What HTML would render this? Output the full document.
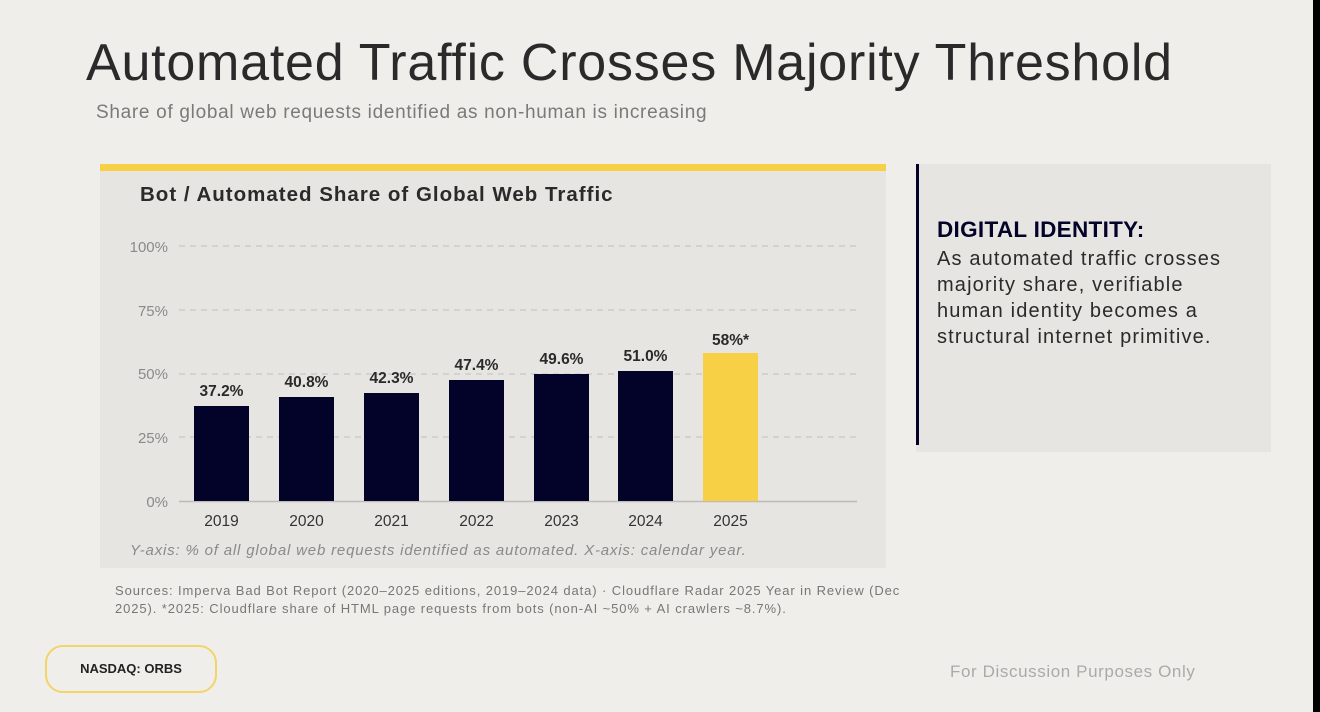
<!DOCTYPE html>
<html><head><meta charset="utf-8"><style>
*{margin:0;padding:0;box-sizing:border-box}
body{width:1320px;height:712px;background:#efeeea;position:relative;overflow:hidden;font-family:"Liberation Sans","DejaVu Sans",sans-serif}
.abs{position:absolute;white-space:nowrap}
</style></head><body>
<div class="abs" style="left:86px;top:33px;font-size:52px;color:#2a2a2a;letter-spacing:0.77px">Automated Traffic Crosses Majority Threshold</div>
<div class="abs" style="left:96px;top:102px;font-size:19px;color:#7a7a7a;letter-spacing:0.7px">Share of global web requests identified as non-human is increasing</div>

<div class="abs" style="left:100px;top:164px;width:786px;height:404px;background:#e6e5e1"></div>
<div class="abs" style="left:100px;top:164px;width:786px;height:7px;background:#f7d046"></div>
<div class="abs" style="left:140px;top:183px;font-size:20.5px;font-weight:bold;color:#2a2a2a;letter-spacing:1px">Bot / Automated Share of Global Web Traffic</div>

<svg class="abs" style="left:0;top:0" width="1320" height="712">
<g font-family="Liberation Sans, sans-serif" font-size="15" fill="#8a8a8a" text-anchor="end">
<text x="168" y="252">100%</text><text x="168" y="316">75%</text><text x="168" y="379">50%</text><text x="168" y="443">25%</text><text x="168" y="507">0%</text>
</g>
<g stroke="#c9c8c4" stroke-width="1.2" stroke-dasharray="6,5">
<line x1="179" y1="246" x2="857" y2="246"/><line x1="179" y1="310" x2="857" y2="310"/><line x1="179" y1="374" x2="857" y2="374"/><line x1="179" y1="437" x2="857" y2="437"/>
</g>
<line x1="179" y1="501.5" x2="857" y2="501.5" stroke="#bdbcb8" stroke-width="1.5"/>
<g fill="#03032a">
<rect x="194" y="406" width="55" height="95"/>
<rect x="279" y="397" width="55" height="104"/>
<rect x="364" y="393" width="55" height="108"/>
<rect x="449" y="380" width="55" height="121"/>
<rect x="534" y="374" width="55" height="127"/>
<rect x="618" y="371" width="55" height="130"/>
</g>
<rect x="703" y="353" width="55" height="148" fill="#f7d046"/>
<g font-family="Liberation Sans, sans-serif" font-size="15.5" font-weight="bold" fill="#2a2a2a" text-anchor="middle">
<text x="221.5" y="396">37.2%</text><text x="306.5" y="387">40.8%</text><text x="391.5" y="383">42.3%</text><text x="476.5" y="370">47.4%</text><text x="561.5" y="364">49.6%</text><text x="645.5" y="361">51.0%</text><text x="730.5" y="345">58%*</text>
</g>
<g font-family="Liberation Sans, sans-serif" font-size="15.5" fill="#333" text-anchor="middle">
<text x="221.5" y="526">2019</text><text x="306.5" y="526">2020</text><text x="391.5" y="526">2021</text><text x="476.5" y="526">2022</text><text x="561.5" y="526">2023</text><text x="645.5" y="526">2024</text><text x="730.5" y="526">2025</text>
</g>
<text x="130" y="555" font-family="Liberation Sans, sans-serif" font-size="15" font-style="italic" fill="#8a8a8a" letter-spacing="0.82">Y-axis: % of all global web requests identified as automated.  X-axis: calendar year.</text>
</svg>

<div class="abs" style="left:916px;top:164px;width:355px;height:288px;background:#e6e5e1"></div>
<div class="abs" style="left:916px;top:164px;width:3px;height:281px;background:#03032a"></div>
<div class="abs" style="left:937px;top:217px;font-size:22.5px;font-weight:bold;color:#03032a;letter-spacing:0.3px">DIGITAL IDENTITY:</div>
<div class="abs" style="left:937px;top:246px;font-size:20px;line-height:26px;color:#2a2a2a;letter-spacing:1.15px">As automated traffic crosses<br>majority share, verifiable<br>human identity becomes a<br>structural internet primitive.</div>

<div class="abs" style="left:115px;top:582px;font-size:13px;line-height:18px;color:#777;letter-spacing:0.9px">Sources: Imperva Bad Bot Report (2020–2025 editions, 2019–2024 data) · Cloudflare Radar 2025 Year in Review (Dec<br>2025).  *2025: Cloudflare share of HTML page requests from bots (non-AI ~50% + AI crawlers ~8.7%).</div>

<div class="abs" style="left:45px;top:645px;width:172px;height:48px;border:2px solid #f2d468;border-radius:18px;font-size:13px;font-weight:bold;color:#222;text-align:center;line-height:44px">NASDAQ: ORBS</div>
<div class="abs" style="left:950px;top:662px;font-size:17px;color:#aaa;letter-spacing:0.6px">For Discussion Purposes Only</div>
<div class="abs" style="left:1313px;top:0;width:7px;height:712px;background:#000"></div>
</body></html>
